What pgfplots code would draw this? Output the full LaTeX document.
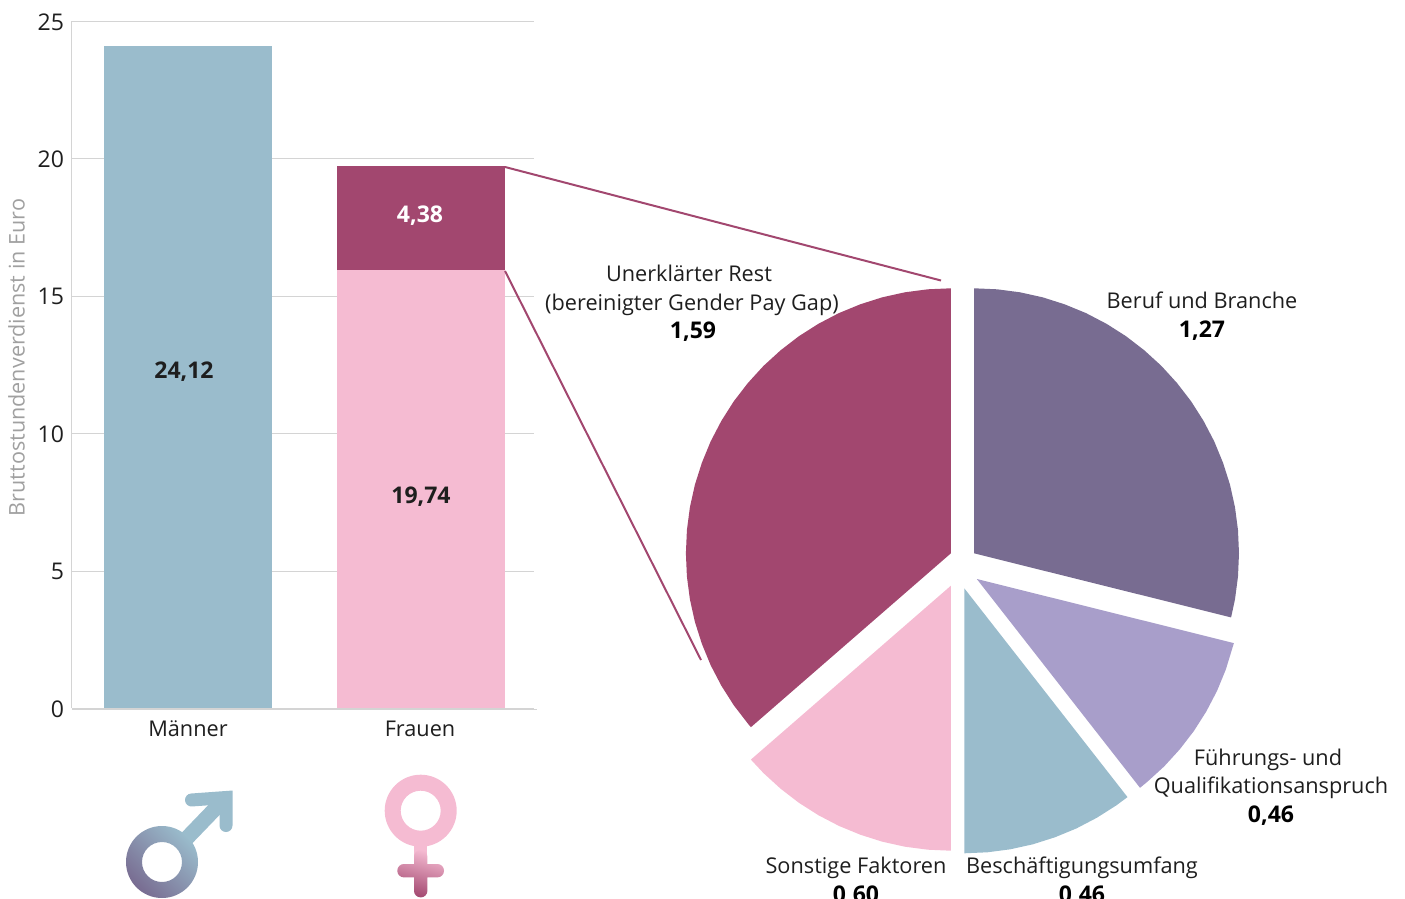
\documentclass[border=0pt]{standalone}
\usepackage{fontspec}
\setmainfont{Open Sans}
\usepackage{pgfplots}
\usepackage{pgfplotstable}
\pgfplotsset{compat=1.18}

\definecolor{cTeal}{HTML}{9ABCCC}
\definecolor{cPink}{HTML}{F5BBD2}
\definecolor{cPlum}{HTML}{A2476F}
\definecolor{cDark}{HTML}{786C91}
\definecolor{cLilac}{HTML}{A89ECA}
\definecolor{cGrid}{HTML}{D4D4D4}
\definecolor{cText}{HTML}{1E1E1E}
\definecolor{cAxisLab}{HTML}{A0A0A0}

\newcommand{\lab}{\fontsize{10.85}{13}\selectfont\color{cText}}
\newcommand{\val}{\fontsize{11.5}{13}\selectfont\bfseries}

\pgfplotstableread{
x men lower upper
0 24.12 0 0
1 0 15.94 3.80
}\bars

\begin{document}
\begin{tikzpicture}
\path[use as bounding box, clip] (0,0) rectangle (702.5pt,449.5pt);

\begin{axis}[
  at={(36pt,95.25pt)}, anchor=south west,
  scale only axis,
  width=231pt, height=343.5pt,
  ybar stacked,
  bar width=84pt,
  xmin=-0.498, xmax=1.485,
  ymin=0, ymax=25,
  xtick={0,1},
  xticklabels={M\"anner,Frauen},
  ytick={0,5,10,15,20,25},
  ymajorgrids=true,
  grid style={cGrid, line width=0.5pt},
  major tick length=0pt,
  axis x line=none,
  axis y line*=left,
  y axis line style={cGrid, line width=0.5pt, -},
  tick label style={font=\fontsize{11.5}{13}\selectfont, text=cText},
  /pgf/number format/assume math mode=true,
  yticklabel style={xshift=-0.5pt, yshift=-0.25pt},
  ylabel={Bruttostundenverdienst in Euro},
  ylabel near ticks,
  ylabel style={font=\fontsize{10.8}{13}\selectfont, text=cAxisLab, xshift=3.75pt, yshift=-0.5pt},
  clip=false,
]
\addplot[fill=cTeal, draw=none] table[x=x, y=men] {\bars};
\addplot[fill=cPink, draw=none] table[x=x, y=lower] {\bars};
\addplot[fill=cPlum, draw=none] table[x=x, y=upper] {\bars};
\end{axis}

\begin{axis}[
  at={(0pt,0pt)}, anchor=south west,
  scale only axis,
  width=702.5pt, height=449.5pt,
  xmin=0, xmax=1405, ymin=0, ymax=899,
  y dir=reverse,
  axis lines=none,
  clip=false,
]
% baseline and connectors
\addplot[cGrid, line width=0.8pt] coordinates {(72,709.5) (537,709.5)};
\addplot[cPlum, line width=1pt] coordinates {(505,167) (941,280.5)};
\addplot[cPlum, line width=1pt] coordinates {(505,271) (701,660)};

% Unerklaerter Rest 1,59
\addplot[fill=cPlum, draw=none] coordinates {
(950.9,553.3) (950.9,288.3) (927.8,289.3) (904.9,292.3) (882.3,297.3) (860.3,304.3)
(838.9,313.1) (818.4,323.8) (798.9,336.2) (780.6,350.3) (763.5,365.9) (747.9,383)
(733.8,401.3) (721.4,420.8) (710.7,441.3) (701.9,462.7) (694.9,484.7) (689.9,507.3)
(686.9,530.2) (685.9,553.3) (686.9,576.4) (689.9,599.3) (694.9,621.9) (701.9,643.9)
(710.7,665.3) (721.4,685.8) (733.8,705.3) (747.9,723.6) (750.9,727.2)
} -- cycle;
% Beruf und Branche 1,27
\addplot[fill=cDark, draw=none] coordinates {
(974,553.3) (974,288.3) (997.1,289.3) (1020,292.3) (1042.6,297.3) (1064.6,304.3)
(1086,313.1) (1106.5,323.8) (1126,336.2) (1144.3,350.3) (1161.4,365.9) (1177,383)
(1191.1,401.3) (1203.5,420.8) (1214.2,441.3) (1223,462.7) (1230,484.7) (1235,507.3)
(1238,530.2) (1239,553.3) (1238,576.4) (1235,599.3) (1231.1,617.4)
} -- cycle;
% Fuehrungs- und Qualifikationsanspruch 0,46
\addplot[fill=cLilac, draw=none] coordinates {
(976.8,579) (1233.9,643.1) (1225.8,669.6) (1217,691) (1206.3,711.5) (1193.9,731)
(1179.8,749.3) (1164.2,766.4) (1147.1,782) (1140,787.8)
} -- cycle;
% Beschaeftigungsumfang 0,46
\addplot[fill=cTeal, draw=none] coordinates {
(964.3,588.3) (1127.5,797.1) (1116.3,805.4) (1096.8,817.8) (1076.3,828.5) (1054.9,837.3)
(1032.9,844.3) (1010.3,849.3) (987.4,852.3) (964.3,853.3)
} -- cycle;
% Sonstige Faktoren 0,60
\addplot[fill=cPink, draw=none] coordinates {
(950.9,585.7) (950.9,850.7) (927.8,849.7) (904.9,846.7) (882.3,841.7) (860.3,834.7)
(838.9,825.9) (818.4,815.2) (798.9,802.8) (780.6,788.7) (763.5,773.1) (750.9,759.6)
} -- cycle;

% bar texts
\node[anchor=base, font=\lab] at (axis cs:188,736) {M\"anner};
\node[anchor=base, font=\lab] at (axis cs:420,736) {Frauen};
\node[anchor=base, font=\val, text=cText] at (axis cs:184,379) {24,12};
\node[anchor=base, font=\val, text=cText] at (axis cs:421,503.5) {19,74};
\node[anchor=base, font=\val, text=white] at (axis cs:420,223) {4,38};

% pie texts
\node[anchor=base, font=\lab] at (axis cs:689,281) {Unerkl\"arter Rest};
\node[anchor=base, font=\lab] at (axis cs:692,310) {(bereinigter Gender Pay Gap)};
\node[anchor=base, font=\val, text=black] at (axis cs:693,338) {1,59};
\node[anchor=base, font=\lab] at (axis cs:1202,308) {Beruf und Branche};
\node[anchor=base, font=\val, text=black] at (axis cs:1202,337) {1,27};
\node[anchor=base, font=\lab] at (axis cs:1268,765) {F\"uhrungs- und};
\node[anchor=base, font=\lab] at (axis cs:1271,793) {Qualifikationsanspruch};
\node[anchor=base, font=\val, text=black] at (axis cs:1271,822) {0,46};
\node[anchor=base, font=\lab] at (axis cs:856,873) {Sonstige Faktoren};
\node[anchor=base, font=\val, text=black] at (axis cs:856,902) {0,60};
\node[anchor=base, font=\lab] at (axis cs:1082,873) {Besch\"aftigungsumfang};
\node[anchor=base, font=\val, text=black] at (axis cs:1082,902) {0,46};

% male symbol
\draw[cTeal, line width=7.5pt] (axis cs:226,797.5) -- (axis cs:187,838);
\draw[cTeal, line width=6.5pt, line cap=round, line join=miter]
  (axis cs:191.5,800) -- (axis cs:226,797.5) -- (axis cs:226,825.5);
\shade[even odd rule, top color=cTeal, middle color=cTeal, bottom color=cDark, shading angle=-45]
  (axis cs:162,862) circle[radius=18pt] (axis cs:162,862) circle[radius=10pt];

% female symbol
\draw[cPink, line width=6.7pt] (axis cs:420.7,842) -- (axis cs:420.7,866);
\fill[cPink, even odd rule]
  (axis cs:420.7,810.7) circle[radius=18pt] (axis cs:420.7,810.7) circle[radius=10pt];
\shade[top color=cPink, middle color=cPink, bottom color=cPlum, shading angle=-15, rounded corners=3.3pt]
  (axis cs:397.3,864) rectangle (axis cs:444,877.4)
  (axis cs:414,850) rectangle (axis cs:427.4,897.4);
\end{axis}
\end{tikzpicture}
\end{document}
